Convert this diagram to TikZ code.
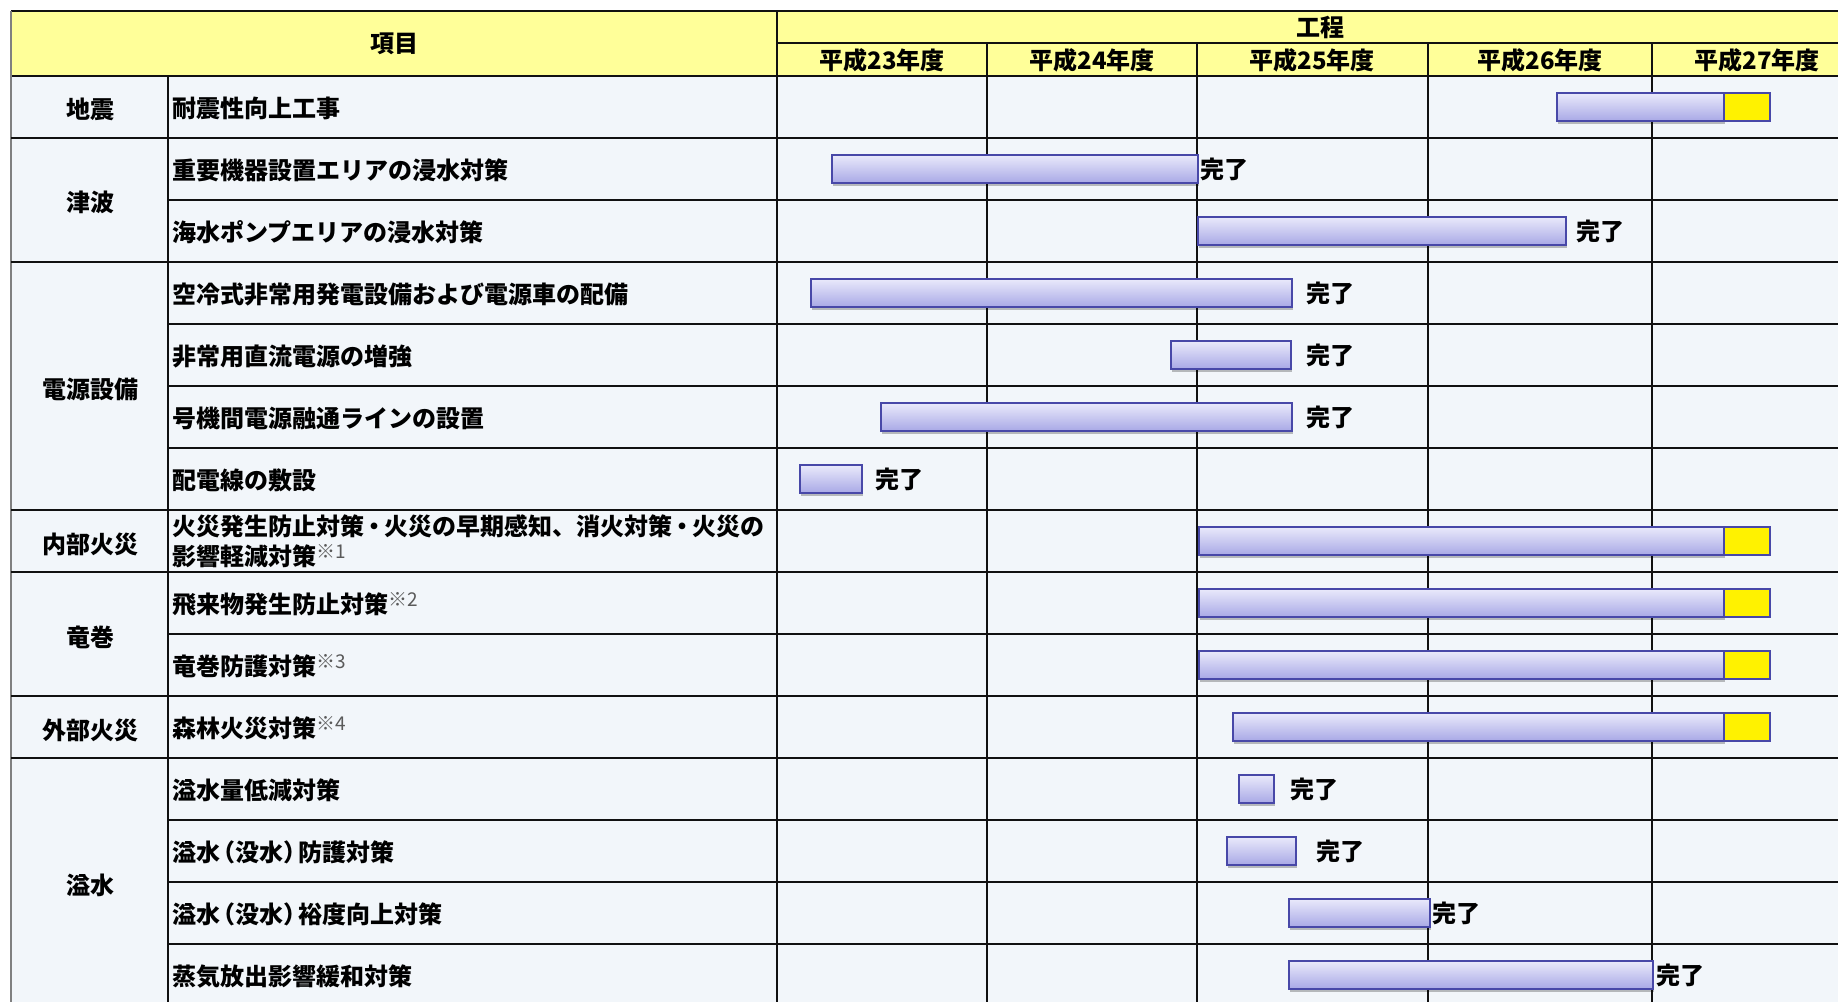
\documentclass[tikz,border=0pt]{standalone}
\usepackage{fontspec}
\setmainfont{Noto Sans CJK JP}
\usetikzlibrary{shadows}
\definecolor{hdr}{HTML}{FFFF99}
\definecolor{cellbg}{HTML}{F2F6FA}
\definecolor{bartop}{HTML}{EAEAFB}
\definecolor{barbot}{HTML}{A9A9E6}
\definecolor{barline}{HTML}{4848A8}
\definecolor{gridc}{HTML}{111111}
\newcommand\supnote[1]{\smash{\raisebox{7pt}{\color[HTML]{5A5A5A}\fontsize{19}{19}\selectfont\mdseries ※#1}}}
\newcommand\lpar{\hspace{-9pt}（}
\newcommand\rpar{）\hspace{-9pt}}
\tikzset{
  txt/.style={font=\fontsize{24}{30}\selectfont\bfseries, inner sep=0pt, text=black},
  itemtxt/.style={txt, anchor=west},
  cattxt/.style={txt, anchor=center},
  gline/.style={draw=gridc, line width=2.2pt},
  bar/.style={draw=barline, line width=1.5pt, top color=bartop, bottom color=barbot,
    minimum height=28pt, inner sep=0pt, anchor=north west,
    drop shadow={shadow xshift=1pt, shadow yshift=-3pt, opacity=0.25, fill=black}},
  ybar/.style={draw=barline, line width=1.5pt, fill=yellow, minimum width=46pt,
    minimum height=28pt, inner sep=0pt, anchor=north west}
}
\begin{document}
\begin{tikzpicture}[x=1pt,y=-1pt]
\useasboundingbox (0,0) rectangle (1838,1001);
\clip (0,0) rectangle (1838,1001);
\fill[white] (0,0) rectangle (1838,1001);
% backgrounds
\fill[hdr] (11,11) rectangle (1863,76);
\fill[cellbg] (11,76) rectangle (1863,1006);
% grid
\draw[gline] (11,11) -- (1863,11);
\draw[gline] (11,76) -- (1863,76);
\draw[gline] (777,43) -- (1863,43);
\draw[draw=gray, line width=1.5pt] (11,11) -- (11,1006);
\draw[gline] (168,76) -- (168,1006);
\draw[gline] (777,11) -- (777,1006);
\foreach \x in {987,1197,1428,1652} \draw[gline] (\x,43) -- (\x,1006);
\foreach \y in {138,262,510,572,696,758} \draw[gline] (11,\y) -- (1863,\y);
\foreach \y in {200,324,386,448,634,820,882,944} \draw[gline] (168,\y) -- (1863,\y);
% header
\node[cattxt] (hkoumoku) at (394,44) {項目};
\node[cattxt] (hkoutei) at (1320,27) {工程};
\node[cattxt] (y23) at (882,60) {平成23年度};
\node[cattxt] (y24) at (1092,60) {平成24年度};
\node[cattxt] (y25) at (1312,60) {平成25年度};
\node[cattxt] (y26) at (1540,60) {平成26年度};
\node[cattxt] (y27) at (1757,60) {平成27年度};
% categories
\node[cattxt] (c1) at (90,109) {地震};
\node[cattxt] (c2) at (90,202) {津波};
\node[cattxt] (c3) at (90,389) {電源設備};
\node[cattxt] (c4) at (90,544) {内部火災};
\node[cattxt] (c5) at (90,637) {竜巻};
\node[cattxt] (c6) at (90,730) {外部火災};
\node[cattxt] (c7) at (90,885) {溢水};
% items
\node[itemtxt] (i1) at (172,108) {耐震性向上工事};
\node[itemtxt] (i2) at (172,170) {重要機器設置エリアの浸水対策};
\node[itemtxt] (i3) at (172,232) {海水ポンプエリアの浸水対策};
\node[itemtxt] (i4) at (172,294) {空冷式非常用発電設備および電源車の配備};
\node[itemtxt] (i5) at (172,356) {非常用直流電源の増強};
\node[itemtxt] (i6) at (172,418) {号機間電源融通ラインの設置};
\node[itemtxt] (i7) at (172,480) {配電線の敷設};
\node[itemtxt, align=left] (i8) at (172,541) {火災発生防止対策\makebox[20pt]{・}火災の早期感知、消火対策\makebox[20pt]{・}火災の\\影響軽減対策\supnote{1}};
\node[itemtxt] (i9) at (172,604) {飛来物発生防止対策\supnote{2}};
\node[itemtxt] (i10) at (172,666) {竜巻防護対策\supnote{3}};
\node[itemtxt] (i11) at (172,728) {森林火災対策\supnote{4}};
\node[itemtxt] (i12) at (172,790) {溢水量低減対策};
\node[itemtxt] (i13) at (172,852) {溢水\lpar 没水\rpar 防護対策};
\node[itemtxt] (i14) at (172,914) {溢水\lpar 没水\rpar 裕度向上対策};
\node[itemtxt] (i15) at (172,976) {蒸気放出影響緩和対策};
% bars
\node[bar, minimum width=167pt] (b1) at (1556,92) {};
\node[ybar] (yb1) at (1723,92) {};
\node[bar, minimum width=366pt] (b2) at (831,154) {};
\node[bar, minimum width=368pt] (b3) at (1197,216) {};
\node[bar, minimum width=481pt] (b4) at (810,278) {};
\node[bar, minimum width=120pt] (b5) at (1170,340) {};
\node[bar, minimum width=411pt] (b6) at (880,402) {};
\node[bar, minimum width=62pt] (b7) at (799,464) {};
\node[bar, minimum width=525pt] (b8) at (1198,526) {};
\node[ybar] (yb8) at (1723,526) {};
\node[bar, minimum width=525pt] (b9) at (1198,588) {};
\node[ybar] (yb9) at (1723,588) {};
\node[bar, minimum width=525pt] (b10) at (1198,650) {};
\node[ybar] (yb10) at (1723,650) {};
\node[bar, minimum width=491pt] (b11) at (1232,712) {};
\node[ybar] (yb11) at (1723,712) {};
\node[bar, minimum width=35pt] (b12) at (1238,774) {};
\node[bar, minimum width=69pt] (b13) at (1226,836) {};
\node[bar, minimum width=141pt] (b14) at (1288,898) {};
\node[bar, minimum width=364pt] (b15) at (1288,960) {};
% done labels
\node[itemtxt] (d2) at ([xshift=2pt,yshift=-1pt]b2.east) {完了};
\node[itemtxt] (d3) at ([xshift=10pt,yshift=-1pt]b3.east) {完了};
\node[itemtxt] (d4) at ([xshift=14pt,yshift=-1pt]b4.east) {完了};
\node[itemtxt] (d5) at ([xshift=15pt,yshift=-1pt]b5.east) {完了};
\node[itemtxt] (d6) at ([xshift=14pt,yshift=-1pt]b6.east) {完了};
\node[itemtxt] (d7) at ([xshift=13pt,yshift=-1pt]b7.east) {完了};
\node[itemtxt] (d12) at ([xshift=16pt,yshift=-1pt]b12.east) {完了};
\node[itemtxt] (d13) at ([xshift=20pt,yshift=-1pt]b13.east) {完了};
\node[itemtxt] (d14) at ([xshift=2pt,yshift=-1pt]b14.east) {完了};
\node[itemtxt] (d15) at ([xshift=3pt,yshift=-1pt]b15.east) {完了};
\end{tikzpicture}
\end{document}
